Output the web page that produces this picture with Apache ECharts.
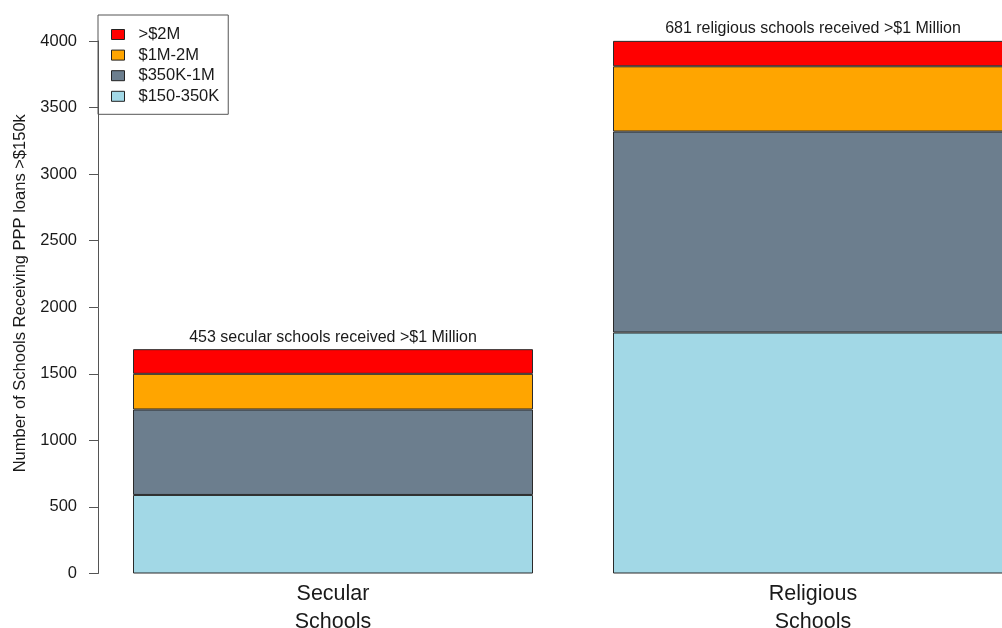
<!DOCTYPE html>
<html>
<head>
<meta charset="utf-8">
<script src="https://cdn.jsdelivr.net/npm/echarts@6/dist/echarts.min.js"></script>
<style>
html,body{margin:0;padding:0;background:#fff;}
#chart{width:1002px;height:628px;}
</style>
</head>
<body>
<div id="chart"></div>
<script>
var categories = ['Secular\nSchools', 'Religious\nSchools'];
var seriesNames = ['$150-350K', '$350K-1M', '$1M-2M', '>$2M'];
var s150to350K = [590, 1810];
var s350Kto1M = [642, 1510];
var s1Mto2M = [268, 490];
var over2M = [185, 191];
var annotations = ['453 secular schools received >$1 Million', '681 religious schools received >$1 Million'];
var yTicks = [0, 500, 1000, 1500, 2000, 2500, 3000, 3500, 4000];
var colors = ['#A2D8E6', '#6C7E8E', '#FFA500', '#FF0000'];

var FONT = "'Liberation Sans', Arial, sans-serif";
var TXT = '#1a1a1a';
var values = [s150to350K, s350Kto1M, s1Mto2M, over2M];

var series = seriesNames.map(function (name, i) {
  var s = {
    name: name,
    type: 'bar',
    stack: 'total',
    barWidth: 400,
    data: values[i],
    itemStyle: { color: colors[i], borderColor: '#2a2a2a', borderWidth: 1 },
    emphasis: { disabled: true }
  };
  if (i === seriesNames.length - 1) {
    s.label = {
      show: true,
      position: 'top',
      distance: 4,
      fontFamily: FONT,
      fontSize: 16,
      color: TXT,
      formatter: function (p) { return annotations[p.dataIndex]; }
    };
  }
  return s;
});

var chart = echarts.init(document.getElementById('chart'), null, { renderer: 'canvas' });
chart.setOption({
  animation: false,
  backgroundColor: '#ffffff',
  grid: { left: 93, width: 960, top: 41, bottom: 54.5, containLabel: false, outerBoundsMode: 'none' },
  legend: {
    data: seriesNames.slice().reverse(),
    orient: 'vertical',
    left: 98,
    top: 15,
    padding: [9.5, 9, 8, 13],
    itemGap: 0.6,
    itemWidth: 13,
    itemHeight: 10,
    borderColor: '#555',
    borderWidth: 1,
    icon: 'rect',
    itemStyle: { borderColor: '#222', borderWidth: 1 },
    textStyle: { fontFamily: FONT, fontSize: 16.5, color: TXT, lineHeight: 20, padding: [0, 0, 0, 9] }
  },
  xAxis: {
    type: 'category',
    data: categories,
    boundaryGap: true,
    axisLine: { show: false },
    axisTick: { show: false },
    axisLabel: { fontFamily: FONT, fontSize: 21.5, lineHeight: 28, color: TXT, margin: 7 }
  },
  yAxis: {
    type: 'value',
    min: yTicks[0],
    max: yTicks[yTicks.length - 1],
    interval: yTicks[1] - yTicks[0],
    offset: -5,
    name: 'Number of Schools Receiving PPP loans >$150k',
    nameLocation: 'middle',
    nameRotate: 90,
    nameGap: 68,
    nameTextStyle: { fontFamily: FONT, fontSize: 16.5, color: TXT, padding: [0, 0, 0, 28] },
    splitLine: { show: false },
    axisLine: { show: true, lineStyle: { color: '#555', width: 1 } },
    axisTick: { show: true, inside: false, length: 9, lineStyle: { color: '#555', width: 1 } },
    axisLabel: { fontFamily: FONT, fontSize: 16.5, color: TXT, margin: 21, formatter: function (v) { return String(v); } }
  },
  series: series
});
</script>
</body>
</html>
